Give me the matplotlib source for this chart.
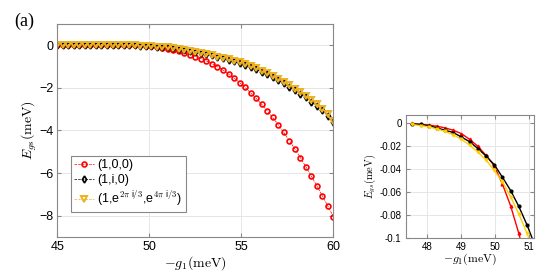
import matplotlib
matplotlib.use("Agg")
import matplotlib.pyplot as plt

plt.rcParams['font.family'] = ['Liberation Sans', 'DejaVu Sans']
plt.rcParams['mathtext.fontset'] = 'cm'

# main panel: -g1 grid and ground state energies (meV)
g1 = [45.0, 45.3, 45.6, 45.9, 46.2, 46.5, 46.8, 47.1, 47.4, 47.7,
      48.0, 48.3, 48.6, 48.9, 49.2, 49.5, 49.8, 50.1, 50.4, 50.7,
      51.0, 51.3, 51.6, 51.9, 52.2, 52.5, 52.8, 53.1, 53.4, 53.7,
      54.0, 54.3, 54.6, 54.9, 55.2, 55.5, 55.8, 56.1, 56.4, 56.7,
      57.0, 57.3, 57.6, 57.9, 58.2, 58.5, 58.8, 59.1, 59.4, 59.7, 60.0]
e_100 = [0, 0, 0, 0, 0, 0, 0, 0, 0, 0,
         0, 0, 0, 0, 0, -0.005, -0.02, -0.04, -0.07, -0.11,
         -0.16, -0.22, -0.29, -0.36, -0.44, -0.53, -0.63, -0.74, -0.87, -1.01,
         -1.17, -1.35, -1.54, -1.75, -1.98, -2.23, -2.49, -2.77, -3.07, -3.39,
         -3.73, -4.09, -4.47, -4.86, -5.27, -5.70, -6.14, -6.60, -7.07, -7.55, -8.05]
e_1i0 = [0, 0, 0, 0, 0, 0, 0, 0, 0, 0,
         0, 0, 0, 0, 0, -0.02, -0.03, -0.04, -0.06, -0.08,
         -0.10, -0.14, -0.18, -0.22, -0.27, -0.32, -0.37, -0.42, -0.48, -0.54,
         -0.60, -0.67, -0.74, -0.82, -0.91, -1.01, -1.12, -1.24, -1.37, -1.50,
         -1.64, -1.79, -1.94, -2.10, -2.27, -2.45, -2.64, -2.84, -3.06, -3.32, -3.62]
e_tri = [0, 0, 0, 0, 0, 0, 0, 0, 0, 0,
         0, 0, 0, 0, 0, -0.02, -0.03, -0.04, -0.06, -0.08,
         -0.10, -0.13, -0.17, -0.21, -0.26, -0.31, -0.36, -0.41, -0.47, -0.53,
         -0.59, -0.65, -0.72, -0.80, -0.88, -0.98, -1.08, -1.20, -1.32, -1.45,
         -1.59, -1.73, -1.88, -2.04, -2.21, -2.38, -2.57, -2.77, -2.98, -3.23, -3.55]

# inset: zoom near the onset
g1_in = [47.57, 47.81, 48.05, 48.29, 48.53, 48.77, 49.01, 49.25,
         49.49, 49.73, 49.97, 50.21, 50.45, 50.69, 50.93, 51.17]
in_100 = [0.0, -0.001, -0.0015, -0.0025, -0.004, -0.006, -0.009, -0.014,
          -0.020, -0.028, -0.037, -0.053, -0.072, -0.096, -0.125, -0.16]
in_1i0 = [-0.0005, -0.001, -0.002, -0.004, -0.006, -0.008, -0.012, -0.016,
          -0.022, -0.0285, -0.036, -0.047, -0.0586, -0.0725, -0.0886, -0.107]
in_tri = [-0.001, -0.002, -0.003, -0.005, -0.007, -0.010, -0.014, -0.019,
          -0.025, -0.032, -0.041, -0.051, -0.064, -0.079, -0.096, -0.115]

labels = ['(1,0,0)', '(1,i,0)', r'(1,e$^{2\pi\ \mathregular{i}/3}$,e$^{4\pi\ \mathregular{i}/3}$)']

red = '#ff0000'
yel = '#edb120'
spine = '#888888'


def style(ax, fs):
    ax.grid(True, color='#e6e6e6', linewidth=0.7)
    ax.set_axisbelow(True)
    ax.tick_params(direction='in', top=True, right=True, labelsize=fs,
                   color=spine, length=3, pad=3)
    for s in ax.spines.values():
        s.set_color(spine)
        s.set_linewidth(0.8)


fig = plt.figure(figsize=(5.59, 2.75), dpi=100)
ax = fig.add_axes([0.1025, 0.138, 0.494, 0.775])
ax.plot(g1, e_100, '--o', color=red, mfc='none', ms=3.5, mew=1.2, lw=0.5, label=labels[0])
ax.plot(g1, e_1i0, '--d', color='k', mfc='none', ms=3.5, mew=1.2, lw=0.5, label=labels[1])
ax.plot(g1, e_tri, '--v', color=yel, mfc='none', ms=5, mew=1.4, lw=0.5, label=labels[2])
ax.set_xlim(45, 60)
ax.set_ylim(-9, 1)
ax.set_xticks([45, 50, 55, 60])
ax.set_yticks([0, -2, -4, -6, -8])
style(ax, 9)
ax.set_xlabel(r'$-g_1(\mathrm{meV})$', fontsize=10, labelpad=1)
ax.set_ylabel(r'$E_{gs}(\mathrm{meV})$', fontsize=10, labelpad=0)
leg = ax.legend(loc='lower left', bbox_to_anchor=(0.048, 0.119), borderaxespad=0,
                fontsize=9, handlelength=1.6, handletextpad=0.2, borderpad=0.3,
                labelspacing=0.2, fancybox=False, framealpha=1)
leg.get_frame().set_edgecolor(spine)
leg.get_frame().set_linewidth(0.8)

fig.text(0.025, 0.905, '(a)', fontsize=13, family='Liberation Serif')

ax2 = fig.add_axes([0.726, 0.1345, 0.229, 0.447])
ax2.plot(g1_in, in_100, '-^', color=red, ms=2, lw=1)
ax2.plot(g1_in, in_1i0, '-o', color='k', ms=2, lw=1)
ax2.plot(g1_in, in_tri, '-v', color='#ffd000', ms=2, lw=1)
ax2.set_xlim(47.38, 51.13)
ax2.set_ylim(-0.1, 0.0072)
ax2.set_xticks([48, 49, 50, 51])
ax2.set_yticks([0, -0.02, -0.04, -0.06, -0.08, -0.1])
ax2.set_yticklabels(['0', '-0.02', '-0.04', '-0.06', '-0.08', '-0.1'])
ax2.set_xticklabels(['48', '49', '50', '51'])
style(ax2, 7)
ax2.set_xlabel(r'$-g_1(\mathrm{meV})$', fontsize=8.5, labelpad=0)
ax2.set_ylabel(r'$E_{gs}(\mathrm{meV})$', fontsize=7.5, labelpad=1)

fig.savefig('out.png', dpi=100)
